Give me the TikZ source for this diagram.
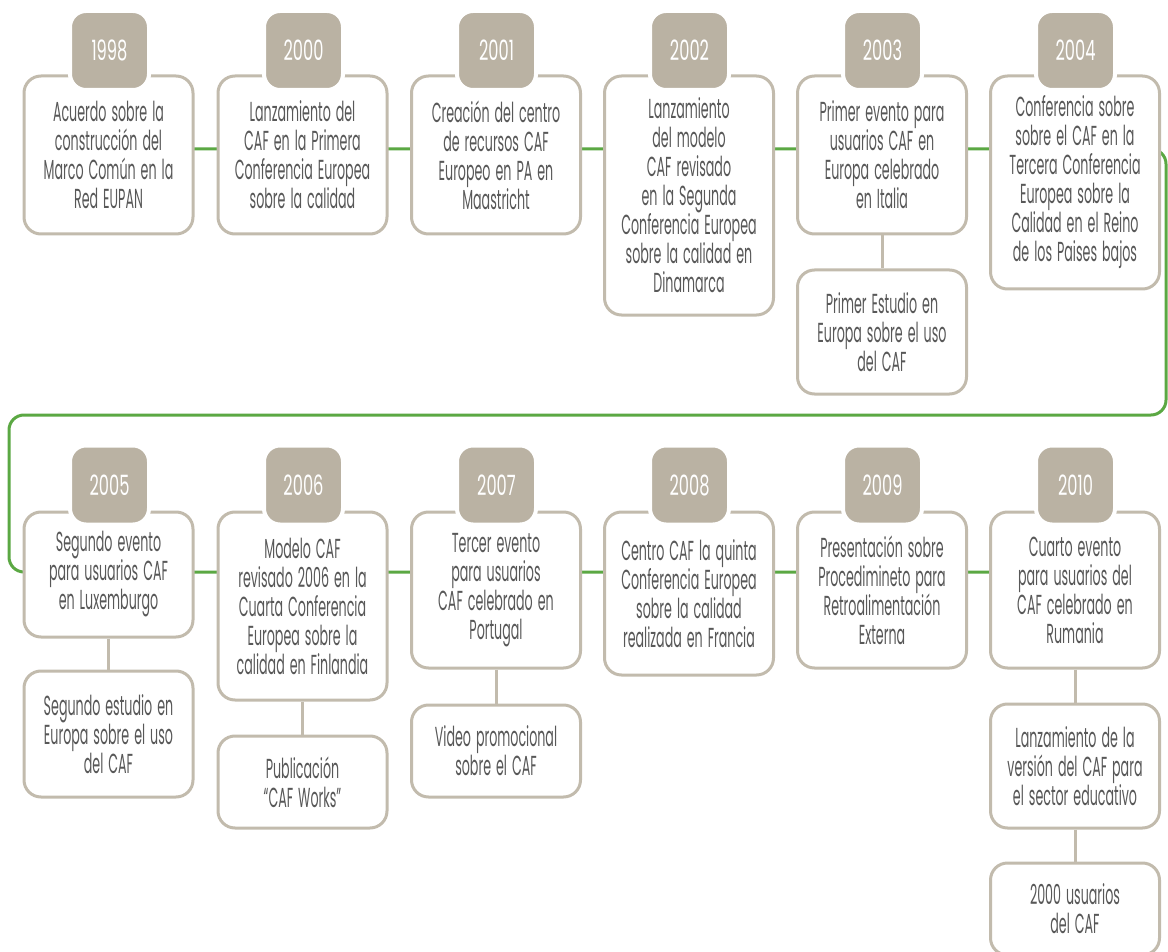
\documentclass[tikz,border=0pt]{standalone}
\usepackage{fontspec}
\setmainfont{Poppins}[FakeStretch=0.46]
\newfontfamily\yearfont{Poppins}[FakeStretch=0.58]
\definecolor{tanc}{HTML}{BAB2A3}
\definecolor{bordc}{HTML}{C2BBAD}
\definecolor{greenc}{HTML}{5BA843}
\definecolor{txtc}{HTML}{585858}
\pgfdeclarelayer{bg}
\pgfsetlayers{bg,main}
\begin{document}
\begin{tikzpicture}[x=1pt,y=-1pt,
 evbox/.style={draw=bordc, line width=3pt, rounded corners=17pt, fill=white,
   minimum width=169pt, text width=165pt, align=center, inner sep=0pt,
   anchor=north, text=txtc, font=\fontsize{27.5}{29}\selectfont,
   execute at begin node=\spaceskip 5pt\relax},
 yeartab/.style={fill=tanc, draw=white, line width=4pt, rounded corners=16pt,
   minimum width=79pt, minimum height=79pt, inner sep=0pt, text=white,
   font=\yearfont\fontsize{28}{29}\selectfont},
 greenline/.style={draw=greenc, line width=3pt, rounded corners=15pt},
 tanline/.style={draw=bordc, line width=3pt}]
\clip (0,0) rectangle (1168,952);
\useasboundingbox (0,0) rectangle (1168,952);

% ---------- row 1 ----------
\node[evbox, minimum height=158pt] (b1998) at (108.5,74.5) {Acuerdo sobre la\\construcción del\\Marco Común en la\\Red EUPAN};
\node[evbox, minimum height=158pt] (b2000) at (302.5,74.5) {Lanzamiento del\\CAF en la Primera\\Conferencia Europea\\sobre la calidad};
\node[evbox, minimum height=158pt] (b2001) at (496,74.5) {Creación del centro\\de recursos CAF\\Europeo en PA en\\Maastricht};
\node[evbox, minimum height=239pt] (b2002) at (689,74.5) {Lanzamiento\\del modelo\\CAF revisado\\en la Segunda\\Conferencia Europea\\sobre la calidad en\\Dinamarca};
\node[evbox, minimum height=158pt] (b2003) at (882,74.5) {Primer evento para\\usuarios CAF en\\Europa celebrado\\en Italia};
\node[evbox, minimum height=213pt] (b2004) at (1075,74.5) {Conferencia sobre\\sobre el CAF en la\\Tercera Conferencia\\Europea sobre la\\Calidad en el Reino\\de los Paises bajos};
\node[evbox, minimum height=124pt] (s2003) at (882,268.5) {Primer Estudio en\\Europa sobre el uso\\del CAF};

% ---------- row 2 ----------
\node[evbox, minimum height=125pt] (b2005) at (108.5,510.5) {Segundo evento\\para usuarios CAF\\en Luxemburgo};
\node[evbox, minimum height=188pt] (b2006) at (302.5,510.5) {Modelo CAF\\revisado 2006 en la\\Cuarta Conferencia\\Europea sobre la\\calidad en Finlandia};
\node[evbox, minimum height=156pt] (b2007) at (496,510.5) {Tercer evento\\para usuarios\\CAF celebrado en\\Portugal};
\node[evbox, minimum height=163pt] (b2008) at (689,510.5) {Centro CAF la quinta\\Conferencia Europea\\sobre la calidad\\realizada en Francia};
\node[evbox, minimum height=156pt] (b2009) at (882,510.5) {Presentación sobre\\Procedimineto para\\Retroalimentación\\Externa};
\node[evbox, minimum height=156pt] (b2010) at (1075,510.5) {Cuarto evento\\para usuarios del\\CAF celebrado en\\Rumania};
\node[evbox, minimum height=126pt] (s2005) at (108.5,669.5) {Segundo estudio en\\Europa sobre el uso\\del CAF};
\node[evbox, minimum height=92pt] (s2006) at (302.5,734.5) {Publicación\\“CAF Works”};
\node[evbox, minimum height=92pt] (s2007) at (496,703.5) {Video promocional\\sobre el CAF};
\node[evbox, minimum height=124pt] (s2010a) at (1075,702.5) {Lanzamiento de la\\versión del CAF para\\el sector educativo};
\node[evbox, minimum height=92pt] (s2010b) at (1075,861.5) {2000 usuarios\\del CAF};

% ---------- year tabs ----------
\node[yeartab] (y1998) at (109.5,50.5) {1998};
\node[yeartab] (y2000) at (303.5,50.5) {2000};
\node[yeartab] (y2001) at (496.5,50.5) {2001};
\node[yeartab] (y2002) at (689.5,50.5) {2002};
\node[yeartab] (y2003) at (882.5,50.5) {2003};
\node[yeartab] (y2004) at (1075.5,50.5) {2004};
\node[yeartab] (y2005) at (109.5,485) {2005};
\node[yeartab] (y2006) at (303.5,485) {2006};
\node[yeartab] (y2007) at (496.5,485) {2007};
\node[yeartab] (y2008) at (689.5,485) {2008};
\node[yeartab] (y2009) at (882.5,485) {2009};
\node[yeartab] (y2010) at (1075.5,485) {2010};

% ---------- connectors ----------
\begin{pgfonlayer}{bg}
\draw[greenline] (b1998.center |- 0,149) -- (1166,149) -- (1166,415)
  -- (9,415) -- (9,572) -- (b2005.center |- 0,572) -- (b2010.center |- 0,572);
\draw[tanline] (b2003.south) -- (s2003.north);
\draw[tanline] (b2005.south) -- (s2005.north);
\draw[tanline] (b2006.south) -- (s2006.north);
\draw[tanline] (b2007.south) -- (s2007.north);
\draw[tanline] (b2010.south) -- (s2010a.north);
\draw[tanline] (s2010a.south) -- (s2010b.north);
\end{pgfonlayer}
\end{tikzpicture}
\end{document}
